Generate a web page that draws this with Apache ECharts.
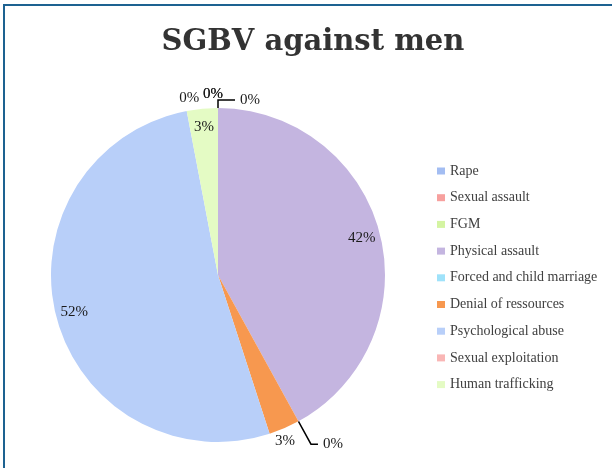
<!DOCTYPE html>
<html>
<head>
<meta charset="utf-8">
<script src="https://cdn.jsdelivr.net/npm/echarts@6/dist/echarts.min.js"></script>
<style>
  html, body { margin: 0; padding: 0; background: #fff; }
  #chart { width: 612px; height: 468px; }
  /* the slide frame: only top and left edges are visible in the crop */
  #frame { position: absolute; left: 3px; top: 4px; width: 640px; height: 500px;
           border-top: 2px solid #1d6291; border-left: 2px solid #1d6291; pointer-events: none; }
</style>
</head>
<body>
<div id="chart"></div>
<div id="frame"></div>
<script>
const categories = ['Rape', 'Sexual assault', 'FGM', 'Physical assault', 'Forced and child marriage',
                    'Denial of ressources', 'Psychological abuse', 'Sexual exploitation', 'Human trafficking'];
const shares = [0, 0, 0, 42, 0, 3, 52, 0, 3];
const colors = ['#a3bdf2', '#f7a09e', '#d4f4a2', '#c4b5e0', '#9fe2fa', '#f7984f', '#b8cff9', '#f9b6b5', '#e4fbc4'];
// which slices carry their label inside the pie
const insideLabel = [false, false, false, true, false, false, true, false, true];

const SERIF = '"Liberation Serif", "DejaVu Serif", serif';
const CENTER = [218, 275];
const R = 167;
// a hair under 90 so the zero slices at 12 o'clock count as right-hand side
const START = 89.999;

// outside labels (zero slices + small orange one): leader line settings and text alignment
const OUTER = {
  0: { line: true,  length: 8,  length2: 17 },
  1: { line: false, length: 14, length2: 0, align: 'right' },
  2: { line: false, length: 14, length2: 0, align: 'right' },
  4: { line: true,  length: 26, length2: 7 },
  5: { line: false, length: 14, length2: 0, align: 'right' },
  7: { line: false, length: 13, length2: 0, align: 'left' },
};

const LABEL_TEXT = { color: '#1a1a1a', fontFamily: SERIF, fontSize: 15 };

const chart = echarts.init(document.getElementById('chart'), null, { renderer: 'canvas' });

chart.setOption({
  animation: false,
  title: {
    text: 'SGBV against men',
    left: 308, top: 23, textAlign: 'center',
    textStyle: { fontFamily: '"DejaVu Serif", serif', fontWeight: 'bold', fontSize: 29, color: '#333' },
  },
  legend: {
    orient: 'vertical',
    left: 437, top: 164, padding: 0,
    icon: 'rect', itemWidth: 8, itemHeight: 7, itemGap: 12.7,
    textStyle: { fontFamily: SERIF, fontSize: 14, lineHeight: 14, color: '#404040' },
    data: categories,
  },
  series: [
    {
      // the pie itself, plus the labels that sit outside it
      type: 'pie',
      center: CENTER, radius: R,
      startAngle: START, clockwise: true,
      avoidLabelOverlap: false,
      percentPrecision: 0,
      label: { show: false },
      labelLine: { show: false },
      data: categories.map((name, i) => {
        const o = OUTER[i];
        return {
          name, value: shares[i],
          itemStyle: { color: colors[i] },
          label: o ? { show: true, position: 'outside', formatter: '{d}%', distanceToLabelLine: 5, ...LABEL_TEXT }
                   : { show: false },
          labelLine: o ? { show: o.line, length: o.length, length2: o.length2, smooth: false,
                           lineStyle: { color: '#000', width: 1.5 } }
                       : { show: false },
        };
      }),
      labelLayout: p => (OUTER[p.dataIndex] && OUTER[p.dataIndex].align) ? { align: OUTER[p.dataIndex].align } : {},
    },
    {
      // transparent ring carrying the in-slice percentages near the rim
      type: 'pie',
      center: CENTER, radius: [124, R],
      startAngle: START, clockwise: true,
      silent: true,
      avoidLabelOverlap: false,
      percentPrecision: 0,
      itemStyle: { color: 'rgba(0,0,0,0)' },
      labelLine: { show: false },
      data: categories.map((name, i) => ({
        name, value: shares[i],
        label: { show: insideLabel[i], position: 'inside', formatter: '{d}%', ...LABEL_TEXT },
      })),
    },
  ],
});
</script>
</body>
</html>
